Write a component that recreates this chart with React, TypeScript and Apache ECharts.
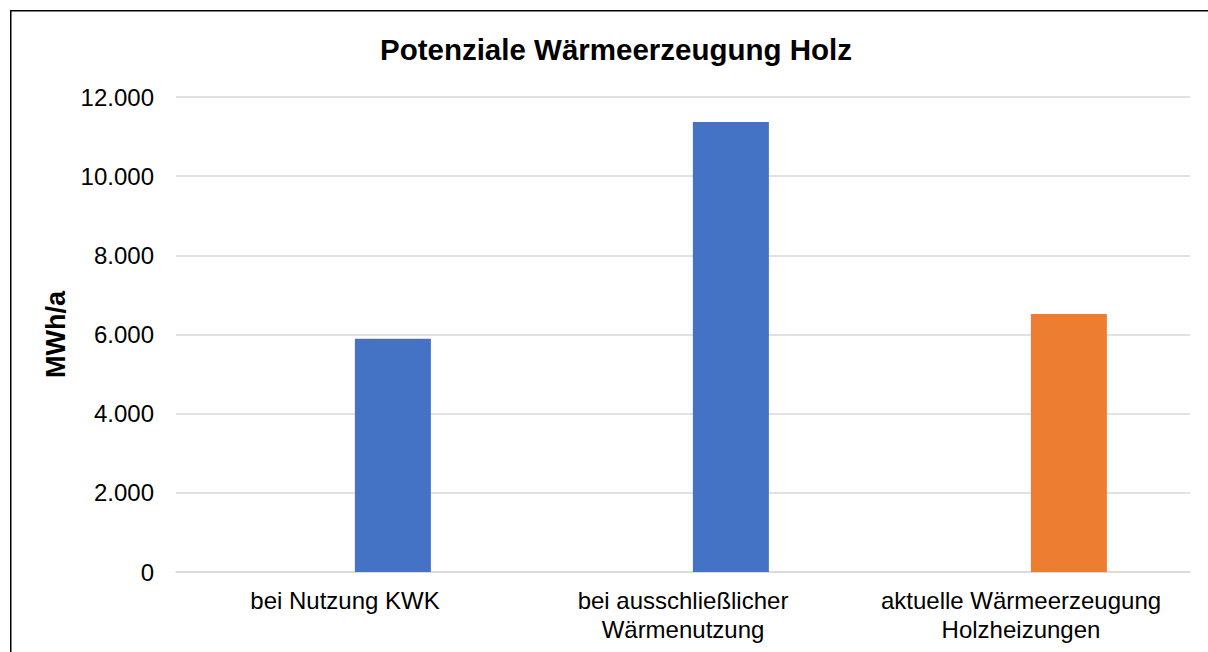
import React, { useEffect, useRef } from "react";
import * as echarts from "echarts";

const categories = [
  "bei Nutzung KWK",
  "bei ausschließlicher\nWärmenutzung",
  "aktuelle Wärmeerzeugung\nHolzheizungen",
];
const values = [5890, 11370, 6520];
const barColors = ["#4472C4", "#4472C4", "#ED7D31"];
const emptySlot = ["-", "-", "-"];
const titleText = "Potenziale Wärmeerzeugung Holz";
const yAxisName = "MWh/a";

const fmt = (v: number) =>
  String(Math.round(v)).replace(/\B(?=(\d{3})+(?!\d))/g, ".");

export default function App() {
  const ref = useRef<HTMLDivElement>(null);
  useEffect(() => {
    if (!ref.current) return;
    const chart = echarts.init(ref.current, undefined, { renderer: "svg" });
    const font = "Liberation Sans, Arial, sans-serif";
    chart.setOption({
      animation: false,
      backgroundColor: "#ffffff",
      title: {
        text: titleText,
        left: 611,
        top: 29,
        textAlign: "center",
        textStyle: {
          fontFamily: font,
          fontSize: 29.5,
          fontWeight: "bold",
          color: "#000000",
        },
      },
      graphic: [
        {
          type: "rect",
          shape: { x: 10.75, y: 10.75, width: 1300, height: 1000 },
          style: { fill: "none", stroke: "#000000", lineWidth: 1.5 },
          silent: true,
          z: 100,
        },
      ],
      grid: { left: 176, right: 18, top: 97, bottom: 80 },
      xAxis: {
        type: "category",
        data: categories,
        axisLine: { show: true, lineStyle: { color: "#d9d9d9", width: 1.5 } },
        axisTick: { show: false },
        axisLabel: {
          fontFamily: font,
          fontSize: 24,
          color: "#000000",
          margin: 14,
          lineHeight: 29,
          interval: 0,
        },
      },
      yAxis: {
        type: "value",
        min: 0,
        max: 12000,
        interval: 2000,
        name: yAxisName,
        nameLocation: "middle",
        nameGap: 106,
        nameTextStyle: {
          fontFamily: font,
          fontSize: 27,
          fontWeight: "bold",
          color: "#000000",
        },
        axisLine: { show: false },
        axisTick: { show: false },
        splitLine: { lineStyle: { color: "#d9d9d9", width: 1.5 } },
        axisLabel: {
          fontFamily: font,
          fontSize: 24,
          color: "#000000",
          margin: 22,
          formatter: fmt,
        },
      },
      series: [
        {
          type: "bar",
          name: "leer",
          data: emptySlot,
          barWidth: 76,
          barGap: "26%",
        },
        {
          type: "bar",
          name: "Wärme",
          barWidth: 76,
          barGap: "26%",
          data: values.map((v, i) => ({
            value: v,
            itemStyle: { color: barColors[i] },
          })),
        },
      ],
    });
    return () => chart.dispose();
  }, []);
  return (
    <div
      ref={ref}
      style={{ position: "absolute", left: 0, top: 0, width: 1208, height: 652 }}
    />
  );
}
